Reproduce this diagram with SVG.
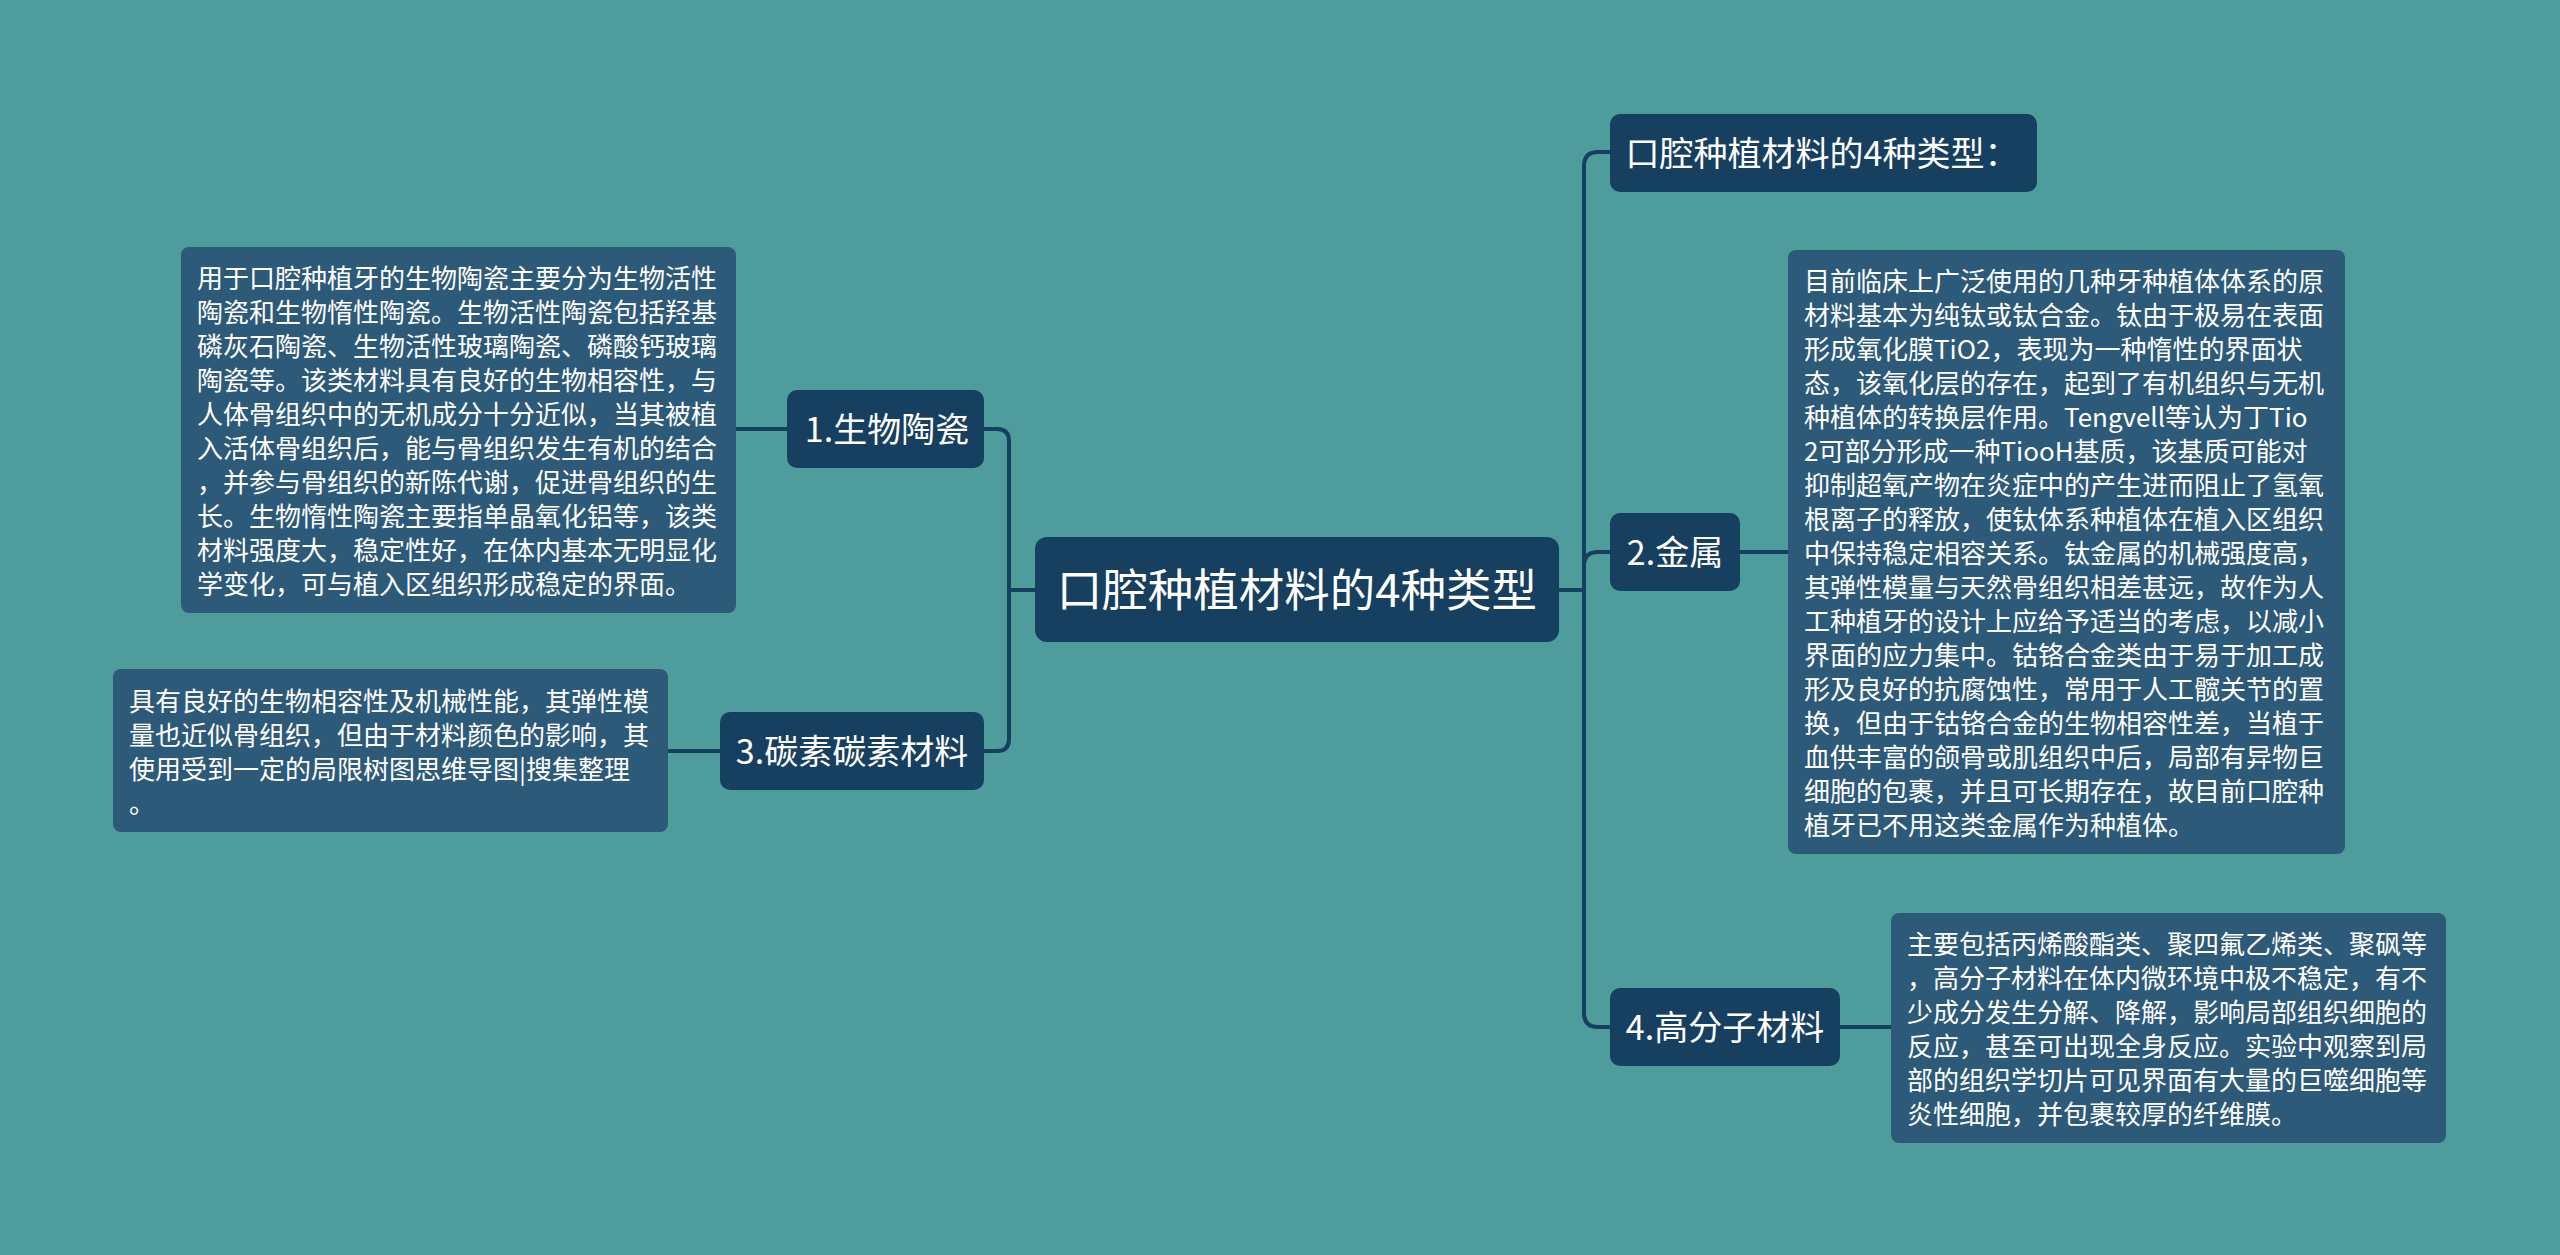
<svg xmlns="http://www.w3.org/2000/svg" width="2560" height="1255" viewBox="0 0 2560 1255">
<style>
.bg{fill:#4E9D9C}
.node{fill:#173F5F}
.box{fill:#2D5A78}
.lbl{font-family:"Noto Sans CJK SC","Noto Sans",sans-serif;fill:#FFFFFF;text-anchor:middle}
.t{font-family:"Noto Sans CJK SC","Noto Sans",sans-serif;fill:#FFFFFF;font-size:26px}
.c{fill:none;stroke:#173F5F;stroke-width:4}
</style>
<rect class="bg" x="0" y="0" width="2560" height="1255"/>
<g id="connectors">
<path class="c" d="M1035 590 H1009 M1009 590 V441 Q1009 429 997 429 H984 M1009 590 V739 Q1009 751 997 751 H984"/>
<path class="c" d="M787 429 H736"/>
<path class="c" d="M720 751 H668"/>
<path class="c" d="M1559 590 H1584 M1584 1015 V166 Q1584 152 1598 152 H1610 M1584 566 Q1584 552 1598 552 H1610 M1584 1013 Q1584 1027 1598 1027 H1610"/>
<path class="c" d="M1740 552 H1788"/>
<path class="c" d="M1840 1027 H1891"/>
</g>
<g id="central">
<rect class="node" x="1035" y="537" width="524" height="105" rx="12"/>
<text class="lbl" x="1297" y="607" font-size="45.5">口腔种植材料的4种类型</text>
</g>
<g id="n1">
<rect class="node" x="787" y="390" width="197" height="78" rx="10"/>
<text class="lbl" x="887" y="442" font-size="34">1.生物陶瓷</text>
</g>
<g id="n1-detail">
<rect class="box" x="181" y="247" width="555" height="366" rx="8"/>
<text class="t">
<tspan x="197" y="288">用于口腔种植牙的生物陶瓷主要分为生物活性</tspan>
<tspan x="197" y="322">陶瓷和生物惰性陶瓷。生物活性陶瓷包括羟基</tspan>
<tspan x="197" y="356">磷灰石陶瓷、生物活性玻璃陶瓷、磷酸钙玻璃</tspan>
<tspan x="197" y="390">陶瓷等。该类材料具有良好的生物相容性，与</tspan>
<tspan x="197" y="424">人体骨组织中的无机成分十分近似，当其被植</tspan>
<tspan x="197" y="458">入活体骨组织后，能与骨组织发生有机的结合</tspan>
<tspan x="197" y="492">，并参与骨组织的新陈代谢，促进骨组织的生</tspan>
<tspan x="197" y="526">长。生物惰性陶瓷主要指单晶氧化铝等，该类</tspan>
<tspan x="197" y="560">材料强度大，稳定性好，在体内基本无明显化</tspan>
<tspan x="197" y="594">学变化，可与植入区组织形成稳定的界面。</tspan>
</text>
</g>
<g id="n3">
<rect class="node" x="720" y="712" width="264" height="78" rx="10"/>
<text class="lbl" x="852" y="764" font-size="34">3.碳素碳素材料</text>
</g>
<g id="n3-detail">
<rect class="box" x="113" y="669" width="555" height="163" rx="8"/>
<text class="t">
<tspan x="129" y="711">具有良好的生物相容性及机械性能，其弹性模</tspan>
<tspan x="129" y="745">量也近似骨组织，但由于材料颜色的影响，其</tspan>
<tspan x="129" y="779">使用受到一定的局限树图思维导图|搜集整理</tspan>
<tspan x="129" y="813">。</tspan>
</text>
</g>
<g id="n0">
<rect class="node" x="1610" y="114" width="427" height="78" rx="10"/>
<text class="lbl" x="1822" y="166" font-size="34">口腔种植材料的4种类型：</text>
</g>
<g id="n2">
<rect class="node" x="1610" y="513" width="130" height="78" rx="10"/>
<text class="lbl" x="1675" y="565" font-size="34">2.金属</text>
</g>
<g id="n2-detail">
<rect class="box" x="1788" y="250" width="557" height="604" rx="8"/>
<text class="t">
<tspan x="1804" y="291">目前临床上广泛使用的几种牙种植体体系的原</tspan>
<tspan x="1804" y="325">材料基本为纯钛或钛合金。钛由于极易在表面</tspan>
<tspan x="1804" y="359">形成氧化膜TiO2，表现为一种惰性的界面状</tspan>
<tspan x="1804" y="393">态，该氧化层的存在，起到了有机组织与无机</tspan>
<tspan x="1804" y="427">种植体的转换层作用。Tengvell等认为丁Tio</tspan>
<tspan x="1804" y="461">2可部分形成一种TiooH基质，该基质可能对</tspan>
<tspan x="1804" y="495">抑制超氧产物在炎症中的产生进而阻止了氢氧</tspan>
<tspan x="1804" y="529">根离子的释放，使钛体系种植体在植入区组织</tspan>
<tspan x="1804" y="563">中保持稳定相容关系。钛金属的机械强度高，</tspan>
<tspan x="1804" y="597">其弹性模量与天然骨组织相差甚远，故作为人</tspan>
<tspan x="1804" y="631">工种植牙的设计上应给予适当的考虑，以减小</tspan>
<tspan x="1804" y="665">界面的应力集中。钴铬合金类由于易于加工成</tspan>
<tspan x="1804" y="699">形及良好的抗腐蚀性，常用于人工髋关节的置</tspan>
<tspan x="1804" y="733">换，但由于钴铬合金的生物相容性差，当植于</tspan>
<tspan x="1804" y="767">血供丰富的颌骨或肌组织中后，局部有异物巨</tspan>
<tspan x="1804" y="801">细胞的包裹，并且可长期存在，故目前口腔种</tspan>
<tspan x="1804" y="835">植牙已不用这类金属作为种植体。</tspan>
</text>
</g>
<g id="n4">
<rect class="node" x="1610" y="988" width="230" height="78" rx="10"/>
<text class="lbl" x="1725" y="1040" font-size="34">4.高分子材料</text>
</g>
<g id="n4-detail">
<rect class="box" x="1891" y="913" width="555" height="230" rx="8"/>
<text class="t">
<tspan x="1907" y="954">主要包括丙烯酸酯类、聚四氟乙烯类、聚砜等</tspan>
<tspan x="1907" y="988">，高分子材料在体内微环境中极不稳定，有不</tspan>
<tspan x="1907" y="1022">少成分发生分解、降解，影响局部组织细胞的</tspan>
<tspan x="1907" y="1056">反应，甚至可出现全身反应。实验中观察到局</tspan>
<tspan x="1907" y="1090">部的组织学切片可见界面有大量的巨噬细胞等</tspan>
<tspan x="1907" y="1124">炎性细胞，并包裹较厚的纤维膜。</tspan>
</text>
</g>
</svg>
